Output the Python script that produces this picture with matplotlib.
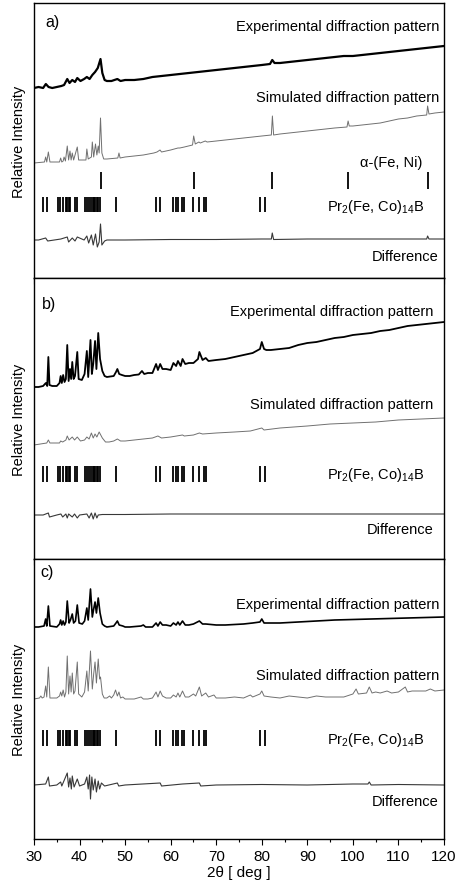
import numpy as np
import matplotlib
matplotlib.use("Agg")
import matplotlib.pyplot as plt
from matplotlib.ticker import MultipleLocator

plt.rcParams['font.family'] = ['Liberation Sans', 'DejaVu Sans']
plt.rcParams['mathtext.fontset'] = 'custom'
plt.rcParams['mathtext.rm'] = 'Liberation Sans'
plt.rcParams['mathtext.default'] = 'regular'

# --- Bragg positions (2theta, deg) ---
bragg_pr = [32.05, 32.9, 35.3, 35.7, 36.3, 37.0, 37.3, 37.6, 38.0, 38.9, 39.5,
            41.1, 41.6, 42.1, 42.6, 42.9, 43.2, 43.5, 43.8, 44.1, 44.4, 47.9,
            56.8, 57.7, 60.6, 61.2, 61.6, 62.5, 62.9, 65.0, 66.2, 67.4, 67.8,
            79.6, 80.8]
bragg_fe = [44.67, 65.02, 82.33, 98.95, 116.4]

# --- panel a) ---
exp_a_x = [30, 31, 32, 32.6, 33.2, 34, 35, 36, 36.6, 37.3, 37.8, 38.4, 39, 39.5, 40.2,
           41, 41.6, 42.2, 42.8, 43.4, 44.0, 44.6, 45.0, 45.5, 46, 47, 48.3, 49, 50,
           52, 54, 56, 58, 60, 62, 64, 66, 68, 70, 72, 74, 76, 78, 80, 81.8, 82.3,
           82.8, 84, 86, 88, 90, 92, 94, 96, 98, 100, 102, 104, 106, 108, 110, 112,
           114, 116, 118, 120]
exp_a_y = [190, 191, 190, 194, 191, 190, 191, 192, 193, 199, 195, 198, 196, 200, 197,
           199, 201, 199, 203, 206, 210, 219, 205, 198, 197, 197, 199, 197, 198,
           198, 199, 201, 202, 203, 204, 205, 206, 207, 208, 209, 210, 211, 212, 213, 214, 218,
           215, 215, 216, 217, 218, 219, 220, 221, 222, 222, 223, 224, 225, 226, 227, 228,
           229, 230, 231, 232]

sim_a_x = [30, 32.3, 32.56, 32.8, 33.15, 33.5, 35.6, 35.85, 36.1, 36.4, 36.6, 36.9, 37.3,
           37.6, 37.9, 38.15, 38.4, 38.7, 39.5, 39.8, 41.4, 41.6, 41.9, 42.6, 42.8, 43.1,
           43.5, 43.8, 44.1, 44.3, 44.6, 44.9, 45.3, 46, 48.4, 48.65, 48.9, 50, 52, 54,
           56.3, 57, 57.66, 58, 60, 61.6, 62, 63, 64.8, 65.05, 65.4, 66.2, 66.5, 67.6, 68,
           70, 72, 74, 76, 78, 80, 82.1, 82.33, 82.6, 84, 86, 88, 90, 92, 94, 96, 98.7,
           98.95, 99.2, 100, 102, 104, 106, 108, 110, 112, 114, 116.2, 116.4, 116.7, 118, 120]
sim_a_y = [115, 116, 121, 116, 126, 116, 116, 120, 116, 117, 121, 117, 132,
           118, 127, 118, 125, 118, 131, 118, 118, 129, 119, 121, 136, 121,
           134, 123, 132, 125, 160, 125, 119, 119, 120, 125, 120, 121, 122, 123,
           125, 126, 128, 126, 128, 130, 130, 131, 133, 142, 134, 136, 135, 137, 136,
           137, 138, 139, 140, 141, 142, 143, 162, 143, 144, 145, 146, 147, 148, 149, 150, 151,
           157, 152, 152, 153, 154, 155, 157, 159, 160, 162, 163, 172, 164, 165, 166]

diff_a_x = [30, 31, 32.56, 33, 35.9, 37.3, 37.6, 38.4, 39, 39.5, 41, 41.6, 42, 42.6, 43,
            43.5, 43.9, 44.3, 44.6, 44.9, 45.5, 46, 50, 60, 70, 80, 82.1, 82.3, 82.6, 90,
            100, 110, 116.2, 116.4, 116.7, 120]
diff_a_y = [38, 38, 40, 37, 39, 41, 36, 40, 37, 41, 38, 42, 35, 43, 33,
            44, 31, 36, 54, 33, 37, 38, 38, 38.5, 38.5, 39, 39, 45, 38.5, 39,
            39, 39, 39, 42, 39, 39]

# --- panel b) ---
exp_b_x = [30, 31, 32, 32.6, 32.9, 33.15, 33.4, 34, 35, 35.6, 35.85, 36.1, 36.4, 36.7,
           37.0, 37.3, 37.6, 37.9, 38.15, 38.4, 38.7, 39.0, 39.5, 39.8, 40.5, 41.1, 41.6,
           41.9, 42.4, 42.7, 43.0, 43.4, 43.7, 44.1, 44.5, 45, 45.5, 46, 47.5, 48.0, 48.3,
           48.7, 49.3, 50, 51, 52, 53, 53.7, 54.2, 55, 56, 56.8, 57.2, 57.7, 58.2, 59, 60,
           60.6, 61.2, 61.6, 62.2, 62.6, 63.2, 64, 65, 66, 66.3, 67, 67.7, 68.3, 70, 72,
           74, 76, 78, 79.6, 80.0, 80.5, 81, 82, 84, 86, 88, 90, 92, 94, 96, 98, 100,
           102, 104, 106, 108, 110, 112, 114, 116, 118, 120]
exp_b_y = [172, 172, 173, 176, 173, 202, 174, 173, 173, 176, 183, 176, 184, 177,
           180, 214, 178, 190, 180, 197, 180, 183, 207, 180, 179, 185, 208,
           182, 219, 185, 195, 218, 190, 226, 200, 188, 183, 182, 183, 187, 190,
           185, 184, 183, 183, 184, 184.5, 188, 185, 186, 186, 195, 189, 195, 190, 190, 189,
           196, 193, 198, 193, 200, 195, 196, 196, 200, 207, 199, 201, 198, 199, 200,
           202, 204, 206, 210, 217, 210, 209, 209, 210, 211, 214, 216, 217, 219, 221, 222, 224,
           225, 226, 228, 229, 231, 233, 234, 235, 236, 237]

sim_b_x = [30, 32.8, 33.15, 33.5, 35.6, 35.85, 36.3, 37.0, 37.3, 37.7, 38.4, 38.9, 39.5,
           40.2, 41.1, 41.6, 42.1, 42.6, 43.0, 43.4, 43.8, 44.3, 45, 45.7, 46.5, 47.5,
           48.3, 49, 50, 52, 54, 56, 57.2, 58, 60, 62.6, 63, 65, 66.3, 67, 70, 74, 77.5,
           80, 80.5, 84, 90, 95, 100, 105, 110, 115, 120]
sim_b_y = [114, 116, 119, 116, 116, 118, 117, 119, 123, 119, 122, 119, 122,
           118, 119, 122, 120, 126, 121, 125, 122, 127, 121, 117, 117, 118,
           120, 118, 118, 119, 120, 121, 123, 121, 122, 124, 123, 124, 126, 125, 126, 127, 128,
           131, 129, 131, 133, 135, 136, 137, 139, 140, 141]

diff_b_x = [30, 32, 33.15, 33.4, 35, 35.9, 36.3, 37, 37.3, 37.6, 38.4, 38.9, 39.5, 40,
            41.6, 42.1, 42.6, 43, 43.4, 43.8, 44.1, 45, 50, 60, 80, 100, 120]
diff_b_y = [44, 44, 46, 42, 44, 45, 42, 45, 41, 45, 42, 45, 41, 44,
            45, 41, 46, 40, 46, 41, 44, 44.5, 44.5, 45, 45, 45, 45]

# --- panel c) ---
exp_c_x = [30, 31, 32.2, 32.56, 32.8, 33.15, 33.5, 35, 35.6, 35.85, 36.1, 36.4, 36.7,
           37.0, 37.3, 37.7, 38.0, 38.4, 38.7, 39.1, 39.5, 39.9, 40.6, 41.1, 41.6, 41.9,
           42.4, 42.8, 43.1, 43.4, 43.7, 44.1, 44.5, 45, 45.5, 46, 47.5, 48.0, 48.3, 48.7,
           49.5, 50, 51, 53.5, 54, 54.5, 56, 56.8, 57.2, 57.7, 58.2, 59, 60, 60.6, 61.2,
           61.6, 62, 62.6, 63.2, 64, 65, 66.3, 67, 67.7, 70, 72, 74, 76, 78, 79.6, 80,
           80.5, 82, 84, 88, 92, 96, 100, 104, 108, 112, 116, 120]
exp_c_y = [212, 212, 213, 220, 213, 233, 213, 212, 215, 219, 214, 218, 214,
           217, 238, 216, 219, 225, 216, 218, 234, 216, 215, 218, 231, 219,
           250, 222, 230, 237, 226, 241, 226, 215, 213, 212, 213, 216, 218, 214,
           213, 212, 212, 213, 214, 212, 212, 216, 213, 217, 214, 214, 213, 216, 214,
           217, 214, 218, 214, 214, 215, 218, 215, 215, 214, 214, 214.5, 215, 216, 217, 220,
           216, 216, 216, 217, 218, 219, 219.5, 220, 220.5, 221, 221.5, 222]

sim_c_x = [30, 31.2, 31.5, 31.8, 32.2, 32.56, 32.8, 33.15, 33.5, 35, 35.6, 35.85, 36.1,
           36.4, 36.7, 37.0, 37.3, 37.6, 37.9, 38.15, 38.4, 38.7, 39.0, 39.5, 39.8, 40.5,
           41.1, 41.6, 41.9, 42.4, 42.8, 43.1, 43.4, 43.7, 44.1, 44.4, 44.6, 45, 45.4, 46,
           46.6, 47, 47.5, 47.9, 48.3, 48.65, 49, 49.5, 50, 52, 53.5, 54, 55, 56, 56.8,
           57.2, 57.7, 58.2, 59, 60, 60.6, 61.2, 61.6, 62, 62.6, 63.2, 64, 65, 65.5, 66.3,
           66.8, 67.7, 68.3, 69.5, 70, 72, 74, 76, 77.5, 78, 79.6, 80, 80.5, 82, 84, 86,
           88, 90, 92, 94, 96, 98, 100, 100.7, 101.2, 103, 103.6, 104.2, 105, 106, 107.5,
           108.5, 110, 111.5, 112, 113, 114, 116, 117, 118, 120]
sim_c_y = [140, 141, 143, 141, 142, 153, 142, 172, 141, 141, 143, 147, 143,
           149, 142, 147, 183, 145, 163, 147, 166, 145, 148, 177, 145, 142,
           147, 168, 148, 188, 150, 165, 177, 156, 180, 160, 162, 145, 141, 141,
           143, 141, 144, 149, 143, 147, 141, 142, 140, 140, 142, 140, 140, 141, 147,
           142, 148, 143, 141, 141, 144, 142, 146, 142, 148, 142, 142, 145, 143, 152,
           143, 146, 142, 144, 141, 141, 142, 141, 144, 142, 145, 148, 143, 142, 141, 143,
           142, 141, 143, 142, 142, 142, 145, 150, 145, 146, 152, 146, 147, 146, 148,
           146, 147, 152, 147, 148, 148, 148, 150, 148, 149]

diff_c_x = [30, 32.56, 33.15, 33.4, 35, 35.85, 36.1, 37.3, 37.6, 37.9, 38.2, 38.4, 38.8,
            39.5, 40, 41.1, 41.6, 41.9, 42.2, 42.4, 42.7, 43.0, 43.4, 43.7, 44.1, 44.4,
            44.8, 45.5, 48.3, 48.6, 50, 57.7, 58, 62.6, 66.3, 66.6, 70, 80, 90, 100,
            103.3, 103.6, 104, 110, 120]
diff_c_y = [54, 55, 62, 53, 54, 57, 53, 66, 52, 61, 50, 63, 52,
            60, 53, 55, 62, 50, 64, 40, 62, 49, 60, 47, 58, 50,
            56, 53, 56, 53, 54, 56, 53, 55, 56, 53, 54, 54.5, 54, 55,
            55, 57, 54, 54.5, 54]

panels = [
    dict(label='a)', h=275, exp=(exp_a_x, exp_a_y), sim=(sim_a_x, sim_a_y),
         diff=(diff_a_x, diff_a_y), fe=True, pr_tick=(66, 81), fe_tick=(89, 106),
         txt_right=118.9, txt_y=(252, 181, 72, 22), fe_y=116, lab_pos=(34.0, 257),
         exp_lw=1.6),
    dict(label='b)', h=281, exp=(exp_b_x, exp_b_y), sim=(sim_b_x, sim_b_y),
         diff=(diff_b_x, diff_b_y), fe=False, pr_tick=(77, 93),
         txt_right=117.6, txt_y=(248, 155, 85, 30), lab_pos=(33.3, 255), exp_lw=1.3),
    dict(label='c)', h=280, exp=(exp_c_x, exp_c_y), sim=(sim_c_x, sim_c_y),
         diff=(diff_c_x, diff_c_y), fe=False, pr_tick=(93, 109),
         txt_right=118.9, txt_y=(235, 164, 100, 38), lab_pos=(32.9, 268), exp_lw=1.2),
]

fig, axes = plt.subplots(3, 1, figsize=(4.57, 8.87), dpi=100, sharex=True,
                         gridspec_kw=dict(height_ratios=[p['h'] for p in panels]))
fig.subplots_adjust(left=34 / 457, right=444 / 457, top=1 - 4 / 887,
                    bottom=1 - 840 / 887, hspace=0)

fs = 10.5
for ax, p in zip(axes, panels):
    ax.plot(*p['exp'], color='black', lw=p['exp_lw'])
    ax.plot(*p['sim'], color='#707070', lw=0.7)
    ax.plot(*p['diff'], color='#383838', lw=0.8)
    ax.vlines(bragg_pr, *p['pr_tick'], color='black', lw=1.3)
    r = p['txt_right']
    ty = p['txt_y']
    ax.text(r, ty[0], 'Experimental diffraction pattern', ha='right', va='center', fontsize=fs)
    ax.text(r, ty[1], 'Simulated diffraction pattern', ha='right', va='center', fontsize=fs)
    ax.text(115.6, ty[2], 'Pr$_2$(Fe, Co)$_{14}$B', ha='right', va='center', fontsize=fs)
    ax.text(r, ty[3], 'Difference', ha='right', va='center', fontsize=fs)
    if p['fe']:
        ax.vlines(bragg_fe, *p['fe_tick'], color='black', lw=1.3)
        ax.text(115.2, p['fe_y'], 'α-(Fe, Ni)', ha='right', va='center', fontsize=fs)
    ax.text(*p['lab_pos'], p['label'], ha='center', va='center', fontsize=11.5)

    ax.set_xlim(30, 120)
    ax.set_ylim(0, p['h'])
    ax.set_yticks([])
    ax.set_ylabel('Relative Intensity', fontsize=fs, labelpad=6)
    ax.xaxis.set_major_locator(MultipleLocator(10))
    ax.xaxis.set_minor_locator(MultipleLocator(5))
    ax.tick_params(axis='x', which='major', direction='out', length=4, width=0.8,
                   labelsize=11, top=False)
    ax.tick_params(axis='x', which='minor', direction='out', length=2.5, width=0.8, top=False)
    for s in ax.spines.values():
        s.set_linewidth(1.0)

axes[-1].set_xlabel('2θ [ deg ]', fontsize=11, labelpad=1)

fig.savefig('out.png', dpi=100)
